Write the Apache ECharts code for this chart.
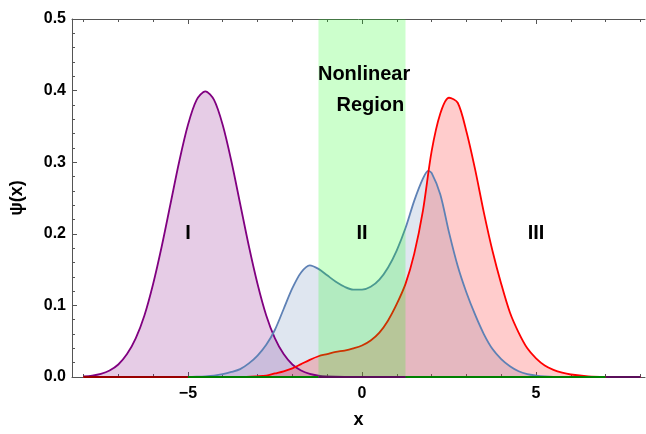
<!DOCTYPE html>
<html>
<head>
<meta charset="utf-8">
<script src="https://cdn.jsdelivr.net/npm/echarts@6/dist/echarts.min.js"></script>
<style>
  html, body { margin: 0; padding: 0; background: #fff; }
  #chart { width: 646px; height: 434px; }
</style>
</head>
<body>
<div id="chart"></div>
<script>
// Wave packets in the three regions
const purpleX = [-8,-7.75,-7.5,-7.25,-7,-6.75,-6.5,-6.25,-6,-5.75,-5.5,-5.25,-5,-4.75,-4.5,-4.25,-4,-3.75,-3.5,-3.25,-3,-2.75,-2.5,-2.25,-2,-1.75,-1.5,-1.25,-1,-0.5,0,8];
const purpleY = [0.0009,0.0020,0.0044,0.0091,0.0175,0.032,0.054,0.086,0.130,0.183,0.242,0.301,0.352,0.387,0.399,0.387,0.352,0.301,0.242,0.183,0.130,0.086,0.054,0.032,0.0175,0.0091,0.0044,0.0020,0.0009,0.0001,0,0];

const blueX = [-8,-5.5,-5,-4.75,-4.5,-4.25,-4,-3.75,-3.5,-3.25,-3,-2.75,-2.5,-2.25,-2,-1.75,-1.5,-1.25,-1,-0.75,-0.5,-0.25,0,0.25,0.5,0.75,1,1.25,1.5,1.75,1.9,2,2.25,2.5,2.75,3,3.25,3.5,3.75,4,4.25,4.5,4.75,5,5.25,5.5,8];
const blueY = [0,0,0.0002,0.0005,0.001,0.002,0.004,0.007,0.011,0.019,0.030,0.045,0.066,0.095,0.124,0.146,0.156,0.151,0.142,0.133,0.126,0.122,0.122,0.126,0.136,0.153,0.177,0.208,0.246,0.277,0.288,0.285,0.255,0.202,0.155,0.118,0.087,0.060,0.039,0.025,0.015,0.008,0.004,0.002,0.0007,0.0002,0];

const redX = [-8,-3.5,-3,-2.75,-2.5,-2.25,-2,-1.75,-1.5,-1.25,-1,-0.75,-0.5,-0.25,0,0.25,0.5,0.75,1,1.25,1.5,1.75,2,2.25,2.5,2.75,3,3.25,3.5,3.75,4,4.25,4.5,4.75,5,5.25,5.5,5.75,6,6.5,7,8];
const redY = [0,0,0.001,0.002,0.005,0.008,0.012,0.018,0.024,0.029,0.032,0.035,0.037,0.040,0.044,0.051,0.062,0.079,0.102,0.130,0.172,0.232,0.315,0.368,0.390,0.383,0.343,0.290,0.230,0.176,0.130,0.090,0.062,0.040,0.026,0.016,0.010,0.006,0.0035,0.001,0.0002,0];

// Nonlinear region bounds
const regionX = [-1.25, 1.25];
const regionTop = 0.5;

// Baseline segments along psi = 0
const baseSegments = [
  { from: -8, to: -5, color: '#990000' },
  { from: -5, to: -1.25, color: '#008000' },
  { from: -1.25, to: 1.25, color: '#5a0f5a' },
  { from: 1.25, to: 7, color: '#008000' },
  { from: 7, to: 8, color: '#5a0f5a' }
];

// Tick values
const xMajorTicks = [-5, 0, 5];
const xMinorTicks = [-8, -7, -6, -4, -3, -2, -1, 1, 2, 3, 4, 6, 7, 8];

// Annotations
const regionLabels = [[-5, 0.2, 'I'], [0, 0.2, 'II'], [5, 0.2, 'III']];
const titleLabels = [[0.06, 0.422, 'Nonlinear'], [0.24, 0.379, 'Region']];

const zip = (xs, ys) => xs.map((x, i) => [x, ys[i]]);
const FONT = 'Liberation Sans, Arial, sans-serif';
const AXIS_COLOR = '#555';
const X_MIN = -8.33, X_MAX = 8.13;

function waveSeries(xs, ys, color, fill) {
  return {
    type: 'line', xAxisIndex: 0, yAxisIndex: 0,
    data: zip(xs, ys), smooth: 0.3, showSymbol: false, symbol: 'none',
    lineStyle: { color: color, width: 1.8 },
    areaStyle: { color: fill, opacity: 1, origin: 'start' },
    z: 3, silent: true
  };
}

const chart = echarts.init(document.getElementById('chart'), null, { renderer: 'canvas' });

const fmtMinus = v => String(v).replace('-', '\u2212');

const option = {
  animation: false,
  backgroundColor: '#fff',
  grid: { left: 72, right: 1, top: 19, bottom: 56, containLabel: false },
  xAxis: [
    {
      type: 'value', position: 'bottom', min: X_MIN, max: X_MAX,
      axisLine: { show: true, onZero: false, lineStyle: { color: AXIS_COLOR, width: 1 } },
      axisTick: { show: true, inside: true, length: 5, customValues: xMajorTicks, lineStyle: { color: AXIS_COLOR } },
      axisLabel: { customValues: xMajorTicks, formatter: fmtMinus, fontFamily: FONT, fontSize: 16, fontWeight: 'bold', color: '#000', margin: 9 },
      splitLine: { show: false },
      name: 'x', nameLocation: 'middle', nameGap: 34,
      nameTextStyle: { fontFamily: FONT, fontSize: 18, fontWeight: 'bold', color: '#000' }
    },
    {
      type: 'value', position: 'bottom', min: X_MIN, max: X_MAX,
      axisLine: { show: false, onZero: false },
      axisTick: { show: true, inside: true, length: 3, customValues: xMinorTicks, lineStyle: { color: AXIS_COLOR } },
      axisLabel: { show: false }, splitLine: { show: false }
    },
    {
      type: 'value', position: 'top', min: X_MIN, max: X_MAX,
      axisLine: { show: true, onZero: false, lineStyle: { color: AXIS_COLOR, width: 1 } },
      axisTick: { show: true, inside: true, length: 5, customValues: xMajorTicks, lineStyle: { color: AXIS_COLOR } },
      axisLabel: { show: false }, splitLine: { show: false }
    },
    {
      type: 'value', position: 'top', min: X_MIN, max: X_MAX,
      axisLine: { show: false, onZero: false },
      axisTick: { show: true, inside: true, length: 3, customValues: xMinorTicks, lineStyle: { color: AXIS_COLOR } },
      axisLabel: { show: false }, splitLine: { show: false }
    }
  ],
  yAxis: [{
    type: 'value', min: 0, max: 0.5, interval: 0.1,
    axisLine: { show: true, onZero: false, lineStyle: { color: AXIS_COLOR, width: 1 } },
    axisTick: { show: true, inside: true, length: 5, lineStyle: { color: AXIS_COLOR } },
    minorTick: { show: true, splitNumber: 5, length: 3, lineStyle: { color: AXIS_COLOR } },
    axisLabel: { formatter: v => v.toFixed(1), fontFamily: FONT, fontSize: 16, fontWeight: 'bold', color: '#000', margin: 6 },
    splitLine: { show: false }, minorSplitLine: { show: false },
    name: '\u03c8(x)', nameLocation: 'middle', nameGap: 46, nameRotate: 90,
    nameTextStyle: { fontFamily: FONT, fontSize: 18, fontWeight: 'bold', color: '#000' }
  }],
  series: [
    waveSeries(purpleX, purpleY, '#800080', 'rgba(128,0,128,0.2)'),
    waveSeries(blueX, blueY, '#5E81B5', 'rgba(94,129,181,0.2)'),
    waveSeries(redX, redY, '#FF0000', 'rgba(255,0,0,0.2)'),
    {
      type: 'line', xAxisIndex: 0, yAxisIndex: 0,
      data: [[regionX[0], regionTop], [regionX[1], regionTop]],
      showSymbol: false, symbol: 'none',
      lineStyle: { width: 0, opacity: 0 },
      areaStyle: { color: 'rgba(0,255,0,0.2)', opacity: 1, origin: 'start' },
      z: 6, silent: true
    },
    ...baseSegments.map(s => ({
      type: 'line', xAxisIndex: 0, yAxisIndex: 0,
      data: [[s.from, 0], [s.to, 0]], showSymbol: false, symbol: 'none',
      lineStyle: { color: s.color, width: 2 }, z: 7, silent: true
    })),
    {
      type: 'scatter', xAxisIndex: 0, yAxisIndex: 0,
      data: regionLabels.concat(titleLabels), symbolSize: 0, z: 8, silent: true,
      itemStyle: { opacity: 1 },
      label: {
        show: true, position: 'inside', formatter: p => p.data[2],
        fontFamily: FONT, fontSize: 20, fontWeight: 'bold', color: '#000', opacity: 1
      }
    }
  ]
};

chart.setOption(option);
</script>
</body>
</html>
